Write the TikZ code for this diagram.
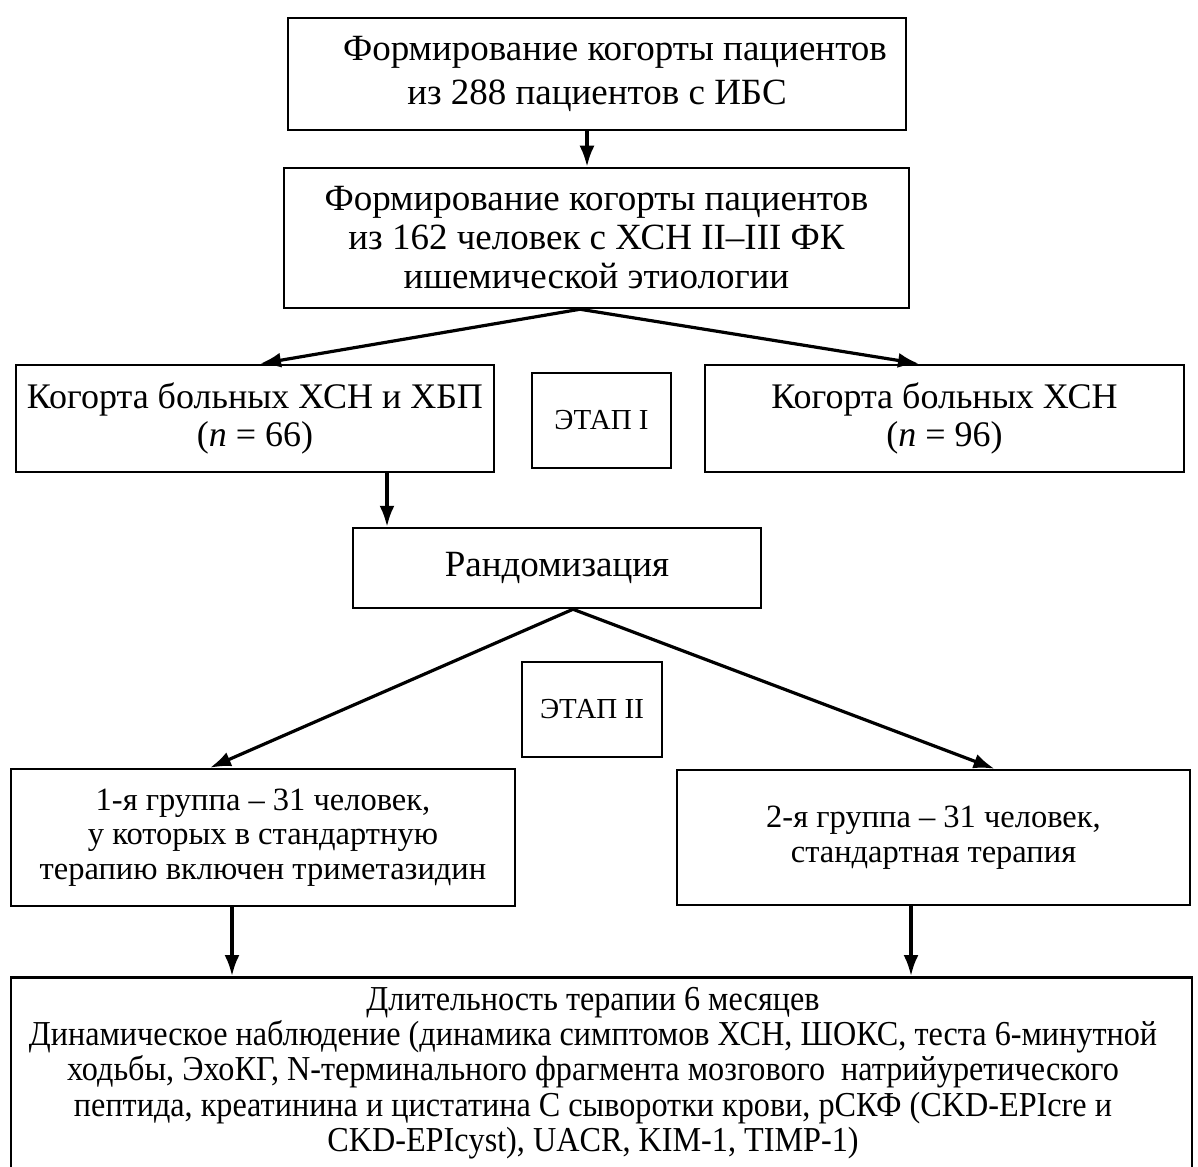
\documentclass[tikz,border=0pt]{standalone}
\usepackage{fontspec}
\setmainfont{Liberation Serif}
\newfontfamily\condfont[FakeStretch=0.92]{Liberation Serif}
\usetikzlibrary{arrows.meta}
\begin{document}
\begin{tikzpicture}[x=1pt,y=-1pt,
  box/.style={draw, line width=2.5pt, inner sep=0pt, align=center,
    font=\fontsize{37}{44}\selectfont},
  box2/.style={box, font=\fontsize{37}{39}\selectfont},
  cohort/.style={box, font=\fontsize{36}{38}\selectfont},
  grp/.style={box, font=\fontsize{32.5}{34.5}\selectfont},
  stage/.style={box, font=\fontsize{29}{30}\selectfont},
  bigbox/.style={box, font=\condfont\fontsize{35}{35.2}\selectfont},
  arr/.style={line width=3.2pt, -{Latex[length=21pt,width=15pt]}}]
\useasboundingbox (0,0) rectangle (1198,1166);
\fill[white] (0,0) rectangle (1198,1166);

\node[box, minimum width=618pt, minimum height=112pt] (b1) at (597,74)
  {\hspace*{36pt}Формирование когорты пациентов\\из 288 пациентов с ИБС};
\node[box2, minimum width=625pt, minimum height=140pt] (b2) at (596.5,238)
  {Формирование когорты пациентов\\из 162 человек с ХСН II–III ФК\\ишемической этиологии};
\node[cohort, minimum width=478pt, minimum height=107pt] (ckd) at (255,418.5)
  {Когорта больных ХСН и ХБП\\(\textit{n} = 66)};
\node[stage, minimum width=139pt, minimum height=95pt] (e1) at (601.5,420.5) {ЭТАП I};
\node[cohort, minimum width=479pt, minimum height=107pt] (chf) at (944.5,418.5)
  {Когорта больных ХСН\\(\textit{n} = 96)};
\node[box, minimum width=408pt, minimum height=80pt] (rand) at (557,568) {Рандомизация};
\node[stage, minimum width=140pt, minimum height=95pt] (e2) at (592,709.5) {ЭТАП II};
\node[grp, minimum width=504pt, minimum height=137pt] (g1) at (263,837.5)
  {1-я группа – 31 человек,\\у которых в стандартную\\терапию включен триметазидин};
\node[grp, minimum width=513pt, minimum height=135pt] (g2) at (933.5,837.5)
  {2-я группа – 31 человек,\\стандартная терапия};
\node[bigbox, minimum width=1181pt, minimum height=194pt, anchor=north] (res) at (601.5,976) {};
\node[bigbox, draw=none, anchor=north] (restext) at (593,986)
  {Длительность терапии 6 месяцев\\
   Динамическое наблюдение (динамика симптомов ХСН, ШОКС, теста 6-минутной\\
   ходьбы, ЭхоКГ, N-терминального фрагмента мозгового \ натрийуретического\\
   пептида, креатинина и цистатина С сыворотки крови, рСКФ (CKD-EPIcre и\\
   CKD-EPIcyst), UACR, KIM-1, TIMP-1)};

\draw[arr] ([xshift=-10pt]b1.south) -- ([xshift=-10pt]b1.south |- b2.north);
\coordinate (ap1) at ([xshift=-16.5pt]b2.south);
\draw[arr] (ap1) -- ([xshift=5pt]ckd.north);
\draw[arr] (ap1) -- ([xshift=-25.5pt]chf.north);
\draw[arr] ([xshift=132pt]ckd.south) -- ([xshift=132pt]ckd.south |- rand.north);
\coordinate (ap2) at ([xshift=16pt]rand.south);
\draw[arr] (ap2) -- ([xshift=-53pt]g1.north);
\draw[arr] (ap2) -- ([xshift=61pt]g2.north);
\draw[arr] ([xshift=-31pt]g1.south) -- ([xshift=-31pt]g1.south |- res.north);
\draw[arr] ([xshift=-22.5pt]g2.south) -- ([xshift=-22.5pt]g2.south |- res.north);
\end{tikzpicture}
\end{document}
